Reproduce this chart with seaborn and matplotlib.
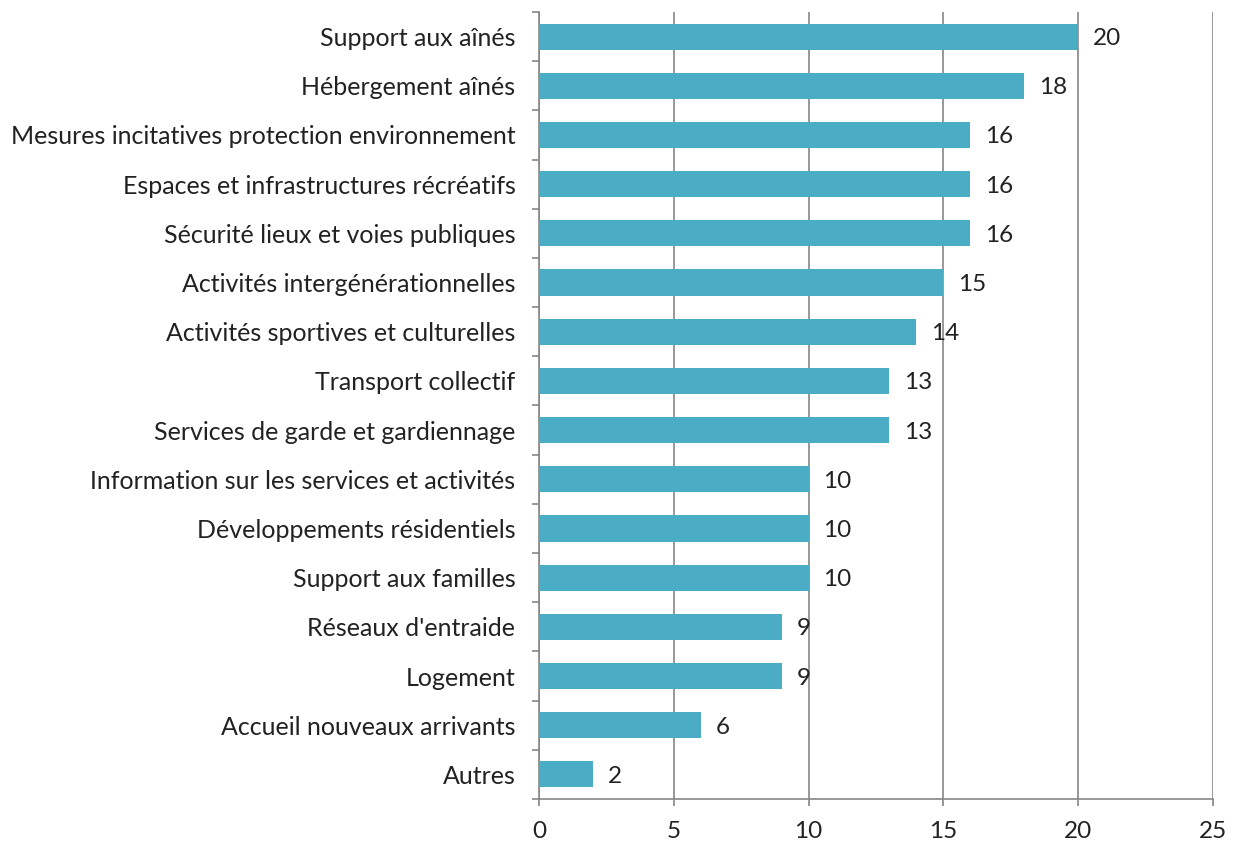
import numpy as np
import pandas as pd
import matplotlib
matplotlib.use("Agg")
import matplotlib.pyplot as plt
import seaborn as sns

categories = [
    "Support aux aînés",
    "Hébergement aînés",
    "Mesures incitatives protection environnement",
    "Espaces et infrastructures récréatifs",
    "Sécurité lieux et voies publiques",
    "Activités intergénérationnelles",
    "Activités sportives et culturelles",
    "Transport collectif",
    "Services de garde et gardiennage",
    "Information sur les services et activités",
    "Développements résidentiels",
    "Support aux familles",
    "Réseaux d'entraide",
    "Logement",
    "Accueil nouveaux arrivants",
    "Autres",
]
values = [20, 18, 16, 16, 16, 15, 14, 13, 13, 10, 10, 10, 9, 9, 6, 2]
x_ticks = [0, 5, 10, 15, 20, 25]

sns.set_style("white")
plt.rcParams["font.family"] = ["Lato", "DejaVu Sans"]

df = pd.DataFrame({"Categorie": categories, "Valeur": values})

fig = plt.figure(figsize=(12.34, 8.44), dpi=100)
ax = fig.add_axes([0.4368, 0.0533, 0.9830 - 0.4368, 0.9858 - 0.0533])

sns.barplot(data=df, x="Valeur", y="Categorie", orient="h", color="#4BACC6",
            saturation=1, width=0.53, linewidth=0, ax=ax, zorder=3)

for i, v in enumerate(values):
    ax.text(v + 0.55, i + 0.04, str(v), va="center", ha="left", fontsize=17.5, color="#222222")

ax.set_xlim(0, 25)
ax.set_ylim(len(categories) - 0.5, -0.5)
ax.set_xticks(x_ticks)
ax.set_xticklabels([str(t) for t in x_ticks], fontsize=17.5, color="#222222")
ax.set_yticks(range(len(categories)))
ax.set_yticklabels(categories, fontsize=18, color="#222222")
ax.set_yticks(np.arange(-0.5, len(categories)), minor=True)
ax.tick_params(axis="y", which="major", left=False, length=0, pad=17)
ax.tick_params(axis="y", which="minor", left=True, length=5, color="#868686", width=1.2)
ax.tick_params(axis="x", bottom=True, length=5, color="#868686", width=1.2, pad=11)
ax.set_xlabel("")
ax.set_ylabel("")

ax.grid(axis="x", color="#868686", linewidth=1.2, zorder=0)
ax.set_axisbelow(True)
for s in ["top", "right"]:
    ax.spines[s].set_visible(False)
for s in ["left", "bottom"]:
    ax.spines[s].set_color("#868686")
    ax.spines[s].set_linewidth(1.2)

fig.savefig("out.png", dpi=100)
